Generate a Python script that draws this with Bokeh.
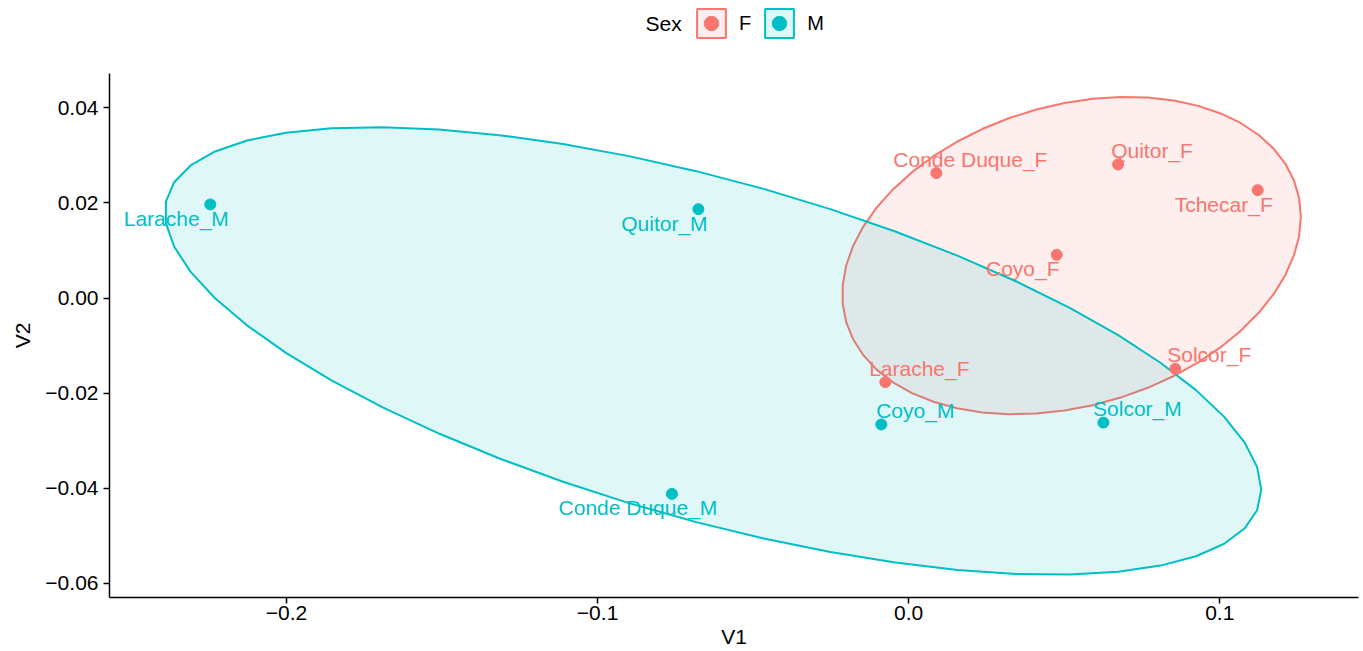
import numpy as np
from bokeh.plotting import figure
from bokeh.layouts import column
from bokeh.models import ColumnDataSource, Range1d, Legend, LegendItem, Label, FixedTicker
from bokeh.embed import file_html
from bokeh.resources import INLINE
from bokeh.core.properties import value

# Sample scores on the first two dimensions
sample = ["Larache_F", "Conde Duque_F", "Quitor_F", "Tchecar_F", "Coyo_F", "Solcor_F",
          "Larache_M", "Quitor_M", "Conde Duque_M", "Coyo_M", "Solcor_M"]
sex = ["F", "F", "F", "F", "F", "F", "M", "M", "M", "M", "M"]
v1 = [-0.0075, 0.0089, 0.0673, 0.1122, 0.0476, 0.0857,
      -0.2245, -0.0676, -0.0761, -0.0088, 0.0626]
v2 = [-0.0177, 0.0263, 0.0281, 0.0227, 0.0091, -0.0149,
      0.0197, 0.0187, -0.0412, -0.0266, -0.0262]
# +1: label sits above-right of its point, -1: below-left
label_side = [1, 1, 1, -1, -1, 1, -1, -1, -1, 1, 1]

groups = ["F", "M"]
group_colors = {"F": "#F8766D", "M": "#00BFC4"}
x_ticks = [-0.2, -0.1, 0.0, 0.1]
y_ticks = [-0.06, -0.04, -0.02, 0.0, 0.02, 0.04]
ellipse_level = 0.65

FONT = "Liberation Sans"
W = 1363
LEGEND_H = 73
MAIN_H = 651 - LEGEND_H
BORDER_L = 109
BORDER_R = 5


def normal_ellipse(x, y, level, segments=51):
    """Data ellipse (multivariate normal, F-scaled radius) as in stat_ellipse(type='norm')."""
    pts = np.column_stack([np.asarray(x), np.asarray(y)])
    center = pts.mean(axis=0)
    cov = np.cov(pts, rowvar=False)
    dfd = len(pts) - 1
    # qf(level, 2, dfd) has a closed form for 2 numerator degrees of freedom
    qf = (dfd / 2.0) * ((1.0 - level) ** (-2.0 / dfd) - 1.0)
    radius = np.sqrt(2.0 * qf)
    chol = np.linalg.cholesky(cov).T  # upper triangular, chol.T @ chol = cov
    ang = np.linspace(0, 2 * np.pi, segments + 1)
    circle = np.column_stack([np.cos(ang), np.sin(ang)])
    e = center + radius * circle @ chol
    return e[:, 0], e[:, 1]


p = figure(width=W, height=MAIN_H, output_backend="svg", toolbar_location=None,
           x_range=Range1d(-0.2569, 0.1446), y_range=Range1d(-0.0630, 0.04724),
           min_border_left=BORDER_L, min_border_right=BORDER_R,
           min_border_top=0, min_border_bottom=54)
p.outline_line_color = None
p.xgrid.visible = False
p.ygrid.visible = False

for g in groups:
    gx = [a for a, s in zip(v1, sex) if s == g]
    gy = [b for b, s in zip(v2, sex) if s == g]
    ex, ey = normal_ellipse(gx, gy, ellipse_level)
    p.patch(ex, ey, fill_color=group_colors[g], fill_alpha=0.12,
            line_color=group_colors[g], line_width=2)

for g in groups:
    idx = [i for i, s in enumerate(sex) if s == g]
    src = ColumnDataSource(dict(
        x=[v1[i] for i in idx], y=[v2[i] for i in idx],
        name=[sample[i] for i in idx],
        dx=[34 * label_side[i] for i in idx],
        dy=[-14 * label_side[i] for i in idx],
    ))
    p.scatter("x", "y", source=src, size=11, fill_color=group_colors[g],
              line_color=group_colors[g])
    p.text("x", "y", text="name", source=src, x_offset="dx", y_offset="dy",
           text_color=group_colors[g], text_font=value(FONT), text_font_size="21px",
           text_align="center", text_baseline="middle")

# Axes
for ax, ticks in ((p.xaxis, x_ticks), (p.yaxis, y_ticks)):
    ax.ticker = FixedTicker(ticks=ticks)
    ax.axis_line_color = "black"
    ax.axis_line_width = 1.5
    ax.major_tick_line_color = "black"
    ax.major_tick_line_width = 1.5
    ax.major_tick_out = 6
    ax.major_tick_in = 0
    ax.minor_tick_line_color = None
    ax.major_label_text_font = FONT
    ax.major_label_text_font_size = "21px"
    ax.major_label_text_color = "black"
    ax.axis_label_text_font = FONT
    ax.axis_label_text_font_size = "21px"
    ax.axis_label_text_font_style = "normal"
    ax.axis_label_text_color = "black"

p.xaxis.major_label_overrides = {t: f"{t:.1f}".replace("-", "\u2212") for t in x_ticks}
p.yaxis.major_label_overrides = {t: f"{t:.2f}".replace("-", "\u2212") for t in y_ticks}
p.xaxis.axis_label = "V1"
p.yaxis.axis_label = "V2"
p.xaxis.major_label_standoff = 2
p.xaxis.axis_label_standoff = 2
p.yaxis.major_label_standoff = 5
p.yaxis.axis_label_standoff = 8

# Legend strip across the top: key renderers carry no data, only their styles
leg = figure(width=W, height=LEGEND_H, output_backend="svg", toolbar_location=None,
             x_range=Range1d(0, 1), y_range=Range1d(0, 1),
             x_axis_location=None, y_axis_location=None,
             min_border_left=BORDER_L, min_border_right=BORDER_R,
             min_border_top=0, min_border_bottom=0)
leg.outline_line_color = None
leg.xgrid.visible = False
leg.ygrid.visible = False

items = []
for g in groups:
    key_patch = leg.patch([np.nan], [np.nan], fill_color=group_colors[g], fill_alpha=0.12,
                          line_color=group_colors[g], line_width=2)
    key_point = leg.scatter([np.nan], [np.nan], size=11, fill_color=group_colors[g],
                            line_color=group_colors[g])
    items.append(LegendItem(label=g, renderers=[key_patch, key_point]))

# screen offsets inside the strip's frame (x from its left edge, y up from its bottom)
legend = Legend(
    items=items, orientation="horizontal", location=(693 - BORDER_L, LEGEND_H - 41),
    glyph_width=36, glyph_height=36, label_standoff=10, spacing=10, label_width=12,
    padding=0, margin=0, border_line_color=None, background_fill_alpha=0,
    label_text_font=FONT, label_text_font_size="20px", label_text_color="black",
)
leg.add_layout(legend, "center")
leg.add_layout(Label(x=645 - BORDER_L, y=LEGEND_H - 23, x_units="screen", y_units="screen",
                     text="Sex", text_font=FONT, text_font_size="21px", text_color="black",
                     text_baseline="middle", text_align="left"))

open("out.html", "w").write(file_html(column(leg, p, spacing=0), INLINE))
